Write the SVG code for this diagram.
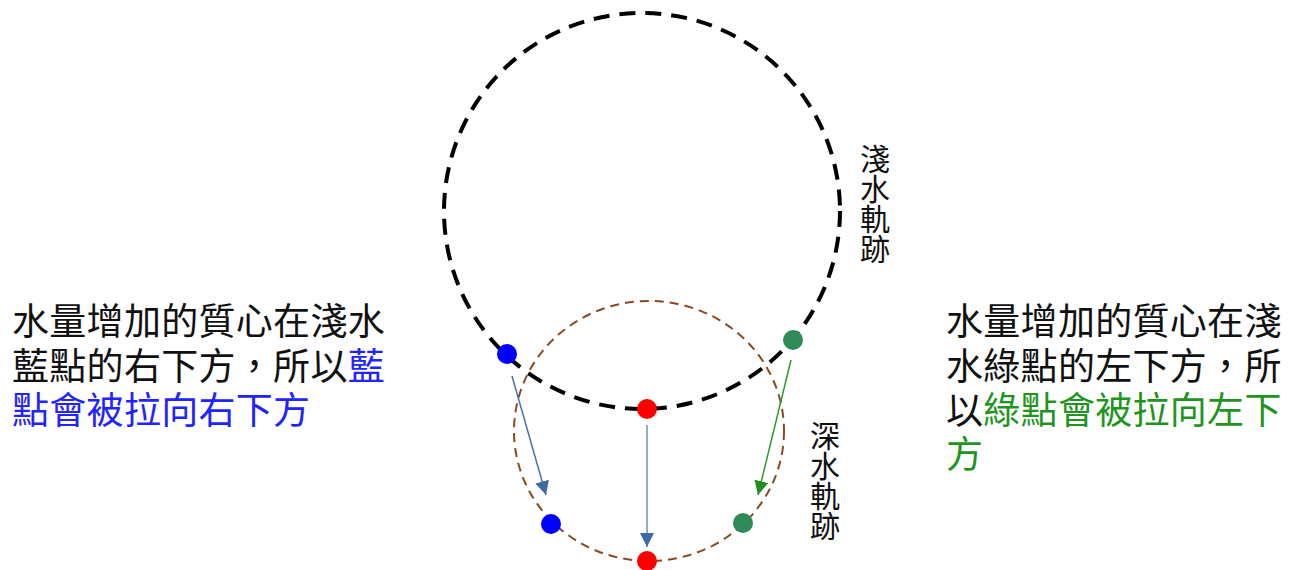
<svg xmlns="http://www.w3.org/2000/svg" width="1299" height="570" viewBox="0 0 1299 570">
<style>
text{font-family:"Noto Sans CJK TC","Noto Sans CJK SC",sans-serif;fill:#111}
.big{font-size:37px;letter-spacing:0.3px}
.v{font-size:30px;writing-mode:vertical-rl;glyph-orientation-vertical:0}
.blue{fill:#2323ff}
.green{fill:#1f951f}
</style>
<defs>
<marker id="ab" viewBox="0 0 10 10" refX="10" refY="5" markerWidth="14" markerHeight="14" markerUnits="userSpaceOnUse" orient="auto"><path d="M0,0L10,5L0,10Z" fill="#3f6aa8"/></marker>
<marker id="ag" viewBox="0 0 10 10" refX="10" refY="5" markerWidth="14" markerHeight="14" markerUnits="userSpaceOnUse" orient="auto"><path d="M0,0L10,5L0,10Z" fill="#1f8f1f"/></marker>
</defs>
<rect width="1299" height="570" fill="#fff"/>
<g id="shallow-orbit"><circle cx="642" cy="211" r="198" fill="none" stroke="#000" stroke-width="4" stroke-dasharray="16 10"/></g>
<g id="deep-orbit"><ellipse cx="649" cy="431" rx="135" ry="130" fill="none" stroke="#8a4b1e" stroke-width="2" stroke-dasharray="9 6"/></g>
<g id="connectors">
<line x1="512" y1="376" x2="546" y2="495" stroke="#4a72b0" stroke-width="1.5" marker-end="url(#ab)"/>
<line x1="647" y1="425" x2="647" y2="547" stroke="#6d8fc4" stroke-width="1.5" marker-end="url(#ab)"/>
<line x1="791" y1="360" x2="758" y2="495" stroke="#2a9a2a" stroke-width="1.5" marker-end="url(#ag)"/>
</g>
<g id="blue-top"><circle cx="507" cy="354" r="10" fill="#0000ff"/></g>
<g id="green-top"><circle cx="793" cy="340" r="10" fill="#2e8b57"/></g>
<g id="red-top"><circle cx="647" cy="409" r="10" fill="#ff0000"/></g>
<g id="blue-bottom"><circle cx="551" cy="524" r="10" fill="#0000ff"/></g>
<g id="green-bottom"><circle cx="743" cy="523" r="10" fill="#2e8b57"/></g>
<g id="red-bottom"><circle cx="647" cy="561" r="10" fill="#ff0000"/></g>
<g id="label-shallow"><text class="v" x="875" y="144">淺水軌跡</text></g>
<g id="label-deep"><text class="v" x="825" y="421">深水軌跡</text></g>
<g id="text-left">
<text class="big"><tspan x="12" y="335">水量增加的質心在淺水</tspan><tspan x="12" y="380">藍點的右下方，所以</tspan><tspan class="blue">藍</tspan><tspan class="blue" x="12" y="424">點會被拉向右下方</tspan></text>
</g>
<g id="text-right">
<text class="big"><tspan x="946" y="335">水量增加的質心在淺</tspan><tspan x="946" y="380">水綠點的左下方，所</tspan><tspan x="946" y="424">以</tspan><tspan class="green">綠點會被拉向左下</tspan><tspan class="green" x="946" y="468">方</tspan></text>
</g>
</svg>
